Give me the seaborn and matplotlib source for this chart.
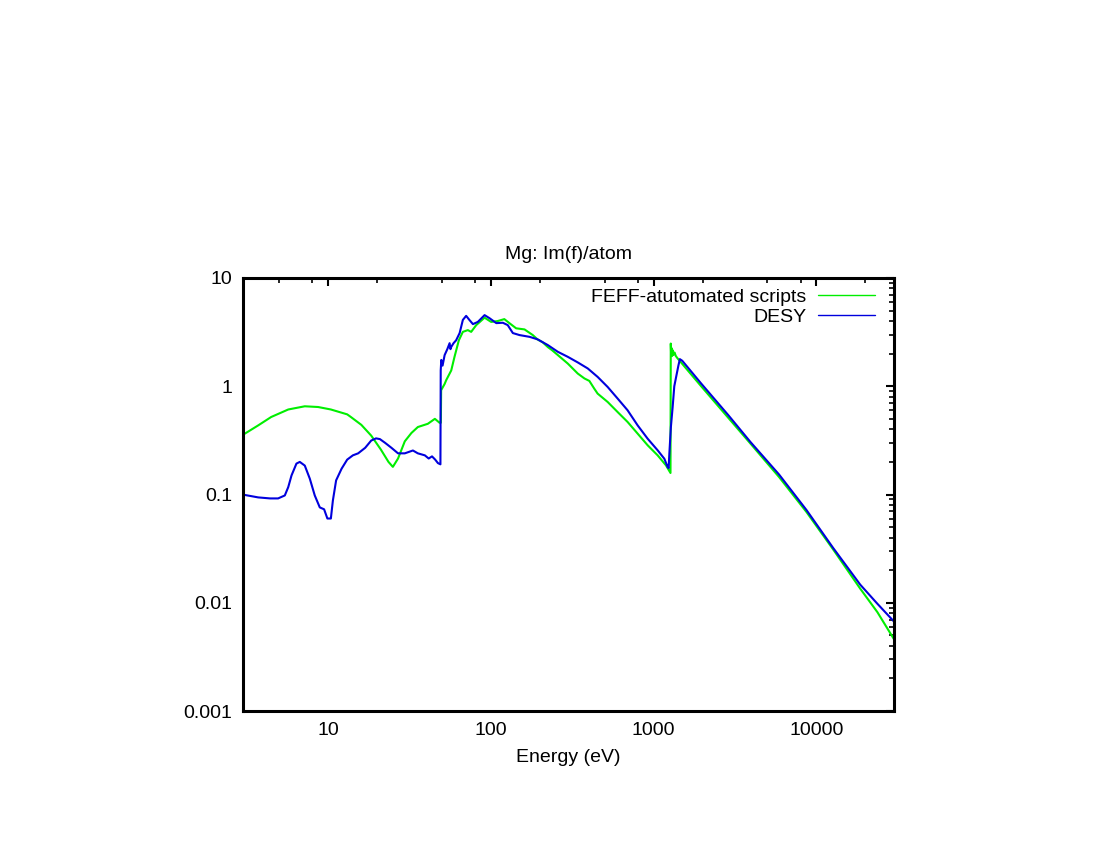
import numpy as np
import pandas as pd
import matplotlib
matplotlib.use("Agg")
import matplotlib.pyplot as plt
import seaborn as sns
from matplotlib.ticker import FixedLocator, FixedFormatter, NullFormatter

# ---------------- data ----------------
title = "Mg: Im(f)/atom"
xlabel = "Energy (eV)"
series_names = ["FEFF-atutomated scripts", "DESY"]

feff_energy = [3.0, 3.08, 3.72, 4.47, 5.69, 7.19, 8.68, 10.4, 13.1, 13.8, 16.0, 18.4,
               21.1, 23.5, 25.0, 26.9, 29.6, 32.5, 35.6, 41.0, 45.3, 48.4, 49.3,
               49.5, 52.0, 53.2, 57.1, 59.8, 63.6, 67.3, 72.2, 75.7, 81.3, 91.5,
               100.4, 110, 121, 130, 143, 161, 181, 194, 208, 224, 238, 258, 297,
               342, 376, 403, 432, 453, 522, 601, 692, 798, 919, 1059, 1191, 1270,
               1275, 1282, 1290, 1298, 1310, 1325, 1345, 1370, 1400, 1445, 1960,
               2880, 3940, 5900, 8690, 12700, 18600, 23700, 30000]
feff_value = [0.36, 0.365, 0.435, 0.52, 0.61, 0.653, 0.643, 0.61, 0.55, 0.52, 0.44, 0.35,
              0.26, 0.20, 0.18, 0.215, 0.31, 0.37, 0.42, 0.45, 0.50, 0.46, 0.46,
              0.92, 1.05, 1.14, 1.40, 1.87, 2.66, 3.18, 3.30, 3.18, 3.67, 4.30,
              3.93, 4.00, 4.17, 3.83, 3.43, 3.35, 2.97, 2.70, 2.55, 2.30, 2.15, 1.94, 1.62,
              1.31, 1.18, 1.12, 0.95, 0.855, 0.716, 0.578, 0.468, 0.365, 0.285, 0.23, 0.186, 0.158,
              2.48, 1.95, 2.25, 1.90, 2.15, 1.95, 2.05, 1.90, 1.82, 1.72, 1.00,
              0.51, 0.295, 0.145, 0.069, 0.031, 0.0135, 0.0082, 0.0046]

desy_energy = [3.0, 3.08, 3.72, 4.4, 4.93, 5.42, 5.69, 5.96, 6.39, 6.70, 7.19, 7.72,
               8.28, 8.89, 9.45, 9.90, 10.4, 10.7, 11.2, 12.1, 13.1, 14.2, 15.3, 16.9,
               18.4, 19.7, 20.8, 22.4, 24.5, 26.9, 29.6, 33.2, 35.6, 39.3, 41.5, 43.5,
               45.5, 47.3, 49.0, 49.2, 49.6, 50.5, 52.0, 54.0, 55.8, 56.5, 57.1, 59.0,
               61.2, 64.3, 67.3, 70.5, 74.0, 77.6, 83.2, 91.5, 98.2, 108, 118.5, 127,
               136.5, 150, 173, 194, 224, 258, 297, 342, 394, 453, 522, 601, 692, 798,
               919, 1059, 1164, 1219, 1237, 1250, 1277, 1309, 1340, 1380, 1420, 1450,
               1500, 1960, 2880, 3940, 5900, 8690, 12700, 18600, 23700, 30000]
desy_value = [0.10, 0.099, 0.094, 0.092, 0.092, 0.098, 0.117, 0.15, 0.193, 0.20, 0.185, 0.14,
              0.098, 0.076, 0.073, 0.060, 0.060, 0.088, 0.135, 0.173, 0.21, 0.23, 0.24, 0.27,
              0.315, 0.33, 0.325, 0.30, 0.27, 0.24, 0.24, 0.255, 0.24, 0.23, 0.215, 0.225,
              0.21, 0.195, 0.19, 1.40, 1.75, 1.55, 1.94, 2.20, 2.50, 2.20, 2.31, 2.50,
              2.66, 3.10, 4.10, 4.47, 4.08, 3.75, 3.93, 4.54, 4.25, 3.83, 3.86, 3.67,
              3.10, 2.97, 2.86, 2.71, 2.40, 2.08, 1.87, 1.66, 1.46, 1.22, 0.985, 0.77, 0.60, 0.435,
              0.328, 0.256, 0.214, 0.18, 0.175, 0.24, 0.42, 0.64, 1.00, 1.25, 1.55, 1.78,
              1.72, 1.06, 0.54, 0.305, 0.153, 0.072, 0.032, 0.0147, 0.0098, 0.0067]

xtick_values = [10, 100, 1000, 10000]
xtick_labels = ["10", "100", "1000", "10000"]
ytick_values = [0.001, 0.01, 0.1, 1, 10]
ytick_labels = ["0.001", "0.01", "0.1", "1", "10"]

# ---------------- style ----------------
sns.set_style("white")
plt.rcParams["font.family"] = ["Liberation Sans", "DejaVu Sans"]
plt.rcParams["text.color"] = "black"
plt.rcParams["axes.labelcolor"] = "black"
plt.rcParams["xtick.color"] = "black"
plt.rcParams["ytick.color"] = "black"

fig = plt.figure(figsize=(11, 8.5), dpi=100)
ax = fig.add_axes([243 / 1100, 1 - 711 / 850, 651 / 1100, 433 / 850])

feff_df = pd.DataFrame({"E": feff_energy, "v": feff_value})
desy_df = pd.DataFrame({"E": desy_energy, "v": desy_value})

sns.lineplot(data=feff_df, x="E", y="v", sort=False, estimator=None, color="#00ee00",
             linewidth=1.5, ax=ax, label=series_names[0])
sns.lineplot(data=desy_df, x="E", y="v", sort=False, estimator=None, color="#0000dd",
             linewidth=1.5, ax=ax, label=series_names[1])

ax.set_xscale("log")
ax.set_yscale("log")
ax.set_xlim(3, 30000)
ax.set_ylim(0.001, 10)

ax.xaxis.set_major_locator(FixedLocator(xtick_values))
ax.xaxis.set_major_formatter(FixedFormatter(xtick_labels))
xminor = [m * 10.0 ** k for k in range(0, 5) for m in (2, 5, 8)]
ax.xaxis.set_minor_locator(FixedLocator(xminor))
ax.xaxis.set_minor_formatter(NullFormatter())

ax.yaxis.set_major_locator(FixedLocator(ytick_values))
ax.yaxis.set_major_formatter(FixedFormatter(ytick_labels))
yminor = [m * 10.0 ** k for k in range(-3, 1) for m in range(2, 10)]
ax.yaxis.set_minor_locator(FixedLocator(yminor))
ax.yaxis.set_minor_formatter(NullFormatter())

ax.tick_params(which="both", direction="in", top=True, right=True, labelsize=14, colors="black")
ax.tick_params(which="major", length=6, width=1.5, pad=8)
ax.tick_params(which="minor", length=3.5, width=1.2)
for s in ax.spines.values():
    s.set_visible(True)
    s.set_color("black")
    s.set_linewidth(2.2)

ax.set_xlabel(xlabel, fontsize=14, labelpad=7)
ax.set_ylabel("")
ax.set_title(title, fontsize=14, pad=14)

leg = ax.legend(loc="upper right", bbox_to_anchor=(0.971, 0.977), markerfirst=False,
                frameon=False, fontsize=14, handlelength=2.93, handletextpad=0.62,
                borderpad=0, borderaxespad=0, labelspacing=0.16)
for ln in leg.get_lines():
    ln.set_linewidth(1.0)

fig.savefig("out.png", dpi=100)
